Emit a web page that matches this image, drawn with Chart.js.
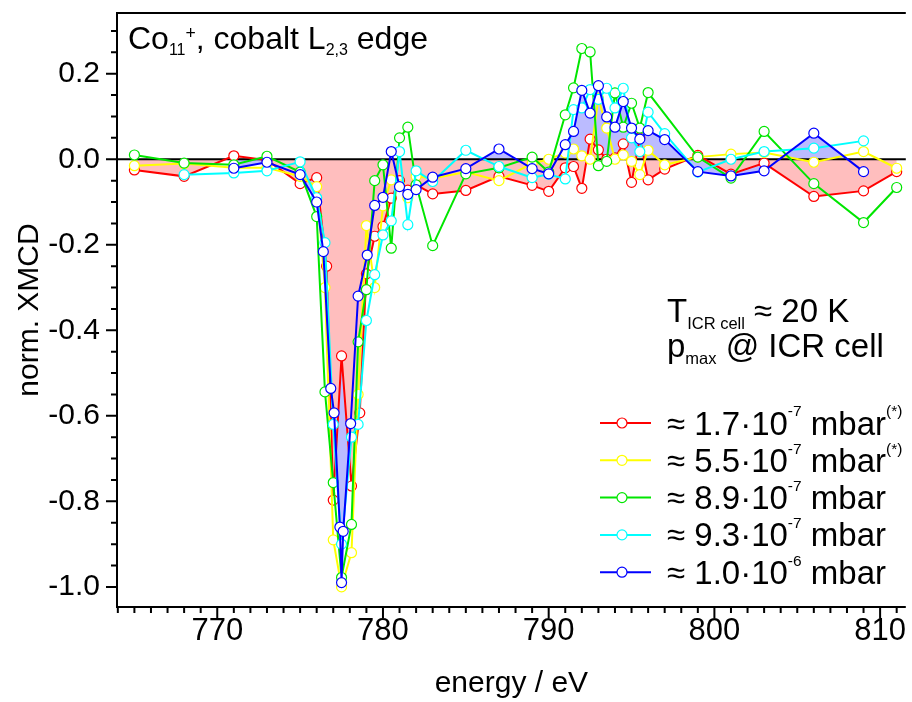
<!DOCTYPE html>
<html>
<head>
<meta charset="utf-8">
<script src="https://cdn.jsdelivr.net/npm/chart.js@4.4.1/dist/chart.umd.min.js"></script>
<style>
  html, body { margin: 0; padding: 0; background: #fff; }
</style>
</head>
<body>
<canvas id="myChart" width="912" height="702"></canvas>
<script>
// energies (eV) and normalised XMCD values
const redE = [765, 768, 771, 773, 775, 776, 776.6, 777, 777.5, 778.1, 778.6, 779, 779.5, 780, 780.5, 781, 781.5, 782, 783, 785, 787, 789, 790, 791, 791.5, 792, 792.5, 793, 793.5, 794, 794.5, 795, 795.5, 796, 797, 799, 801, 803, 806, 809, 811];
const redV = [-0.025, -0.04, 0.008, -0.002, -0.057, -0.043, -0.25, -0.797, -0.46, -0.764, -0.593, -0.268, -0.18, -0.157, -0.091, -0.05, -0.072, -0.06, -0.081, -0.073, -0.04, -0.061, -0.075, -0.02, -0.017, -0.068, 0.047, 0.022, 0.0, 0.003, 0.036, -0.054, 0.05, -0.048, -0.023, 0.009, -0.035, -0.009, -0.087, -0.074, -0.029];

const yellowE = [765, 768, 771, 773, 775, 776, 776.5, 777, 777.5, 778.1, 778.5, 779, 779.5, 780, 780.5, 781, 781.5, 782, 783, 785, 787, 789, 790, 791, 791.5, 792, 792.5, 793, 793.5, 794, 794.5, 795, 795.5, 796, 797, 799, 801, 803, 806, 809, 811];
const yellowV = [-0.015, -0.01, -0.02, -0.02, -0.04, -0.064, -0.3, -0.89, -1.0, -0.92, -0.55, -0.155, -0.3, -0.109, -0.048, -0.06, -0.09, -0.04, -0.045, -0.03, -0.05, -0.01, 0.0, 0.015, 0.024, 0.008, 0.0, 0.143, 0.073, 0.0, 0.01, -0.005, -0.036, 0.021, -0.013, 0.005, 0.012, 0.016, -0.007, 0.018, -0.021];

const greenE = [765, 768, 771, 773, 775, 776, 776.5, 777, 777.5, 778.1, 778.5, 779, 779.5, 780, 780.5, 781, 781.5, 782, 783, 785, 787, 789, 790, 791, 791.5, 792, 792.5, 793, 793.5, 794, 794.5, 795, 795.5, 796, 799, 801, 803, 806, 809, 811];
const greenV = [0.01, -0.009, -0.013, 0.007, -0.03, -0.134, -0.544, -0.756, -0.978, -0.854, -0.427, -0.305, -0.05, -0.013, -0.208, 0.05, 0.075, -0.06, -0.202, -0.034, -0.02, 0.005, -0.03, 0.104, 0.167, 0.259, 0.251, -0.015, -0.005, 0.155, 0.075, 0.131, 0.073, 0.156, 0.005, -0.044, 0.065, -0.057, -0.148, -0.066];

const cyanE = [768, 771, 773, 775, 776, 776.5, 777, 777.5, 778.1, 778.5, 779, 779.5, 780, 780.5, 781, 781.5, 782, 783, 785, 787, 789, 790, 791, 791.5, 792, 792.5, 793, 793.5, 794, 794.5, 795, 795.5, 796, 797, 799, 801, 803, 806, 809];
const cyanV = [-0.036, -0.032, -0.027, -0.006, -0.09, -0.195, -0.62, -0.9, -0.65, -0.62, -0.377, -0.27, -0.177, -0.144, 0.018, -0.153, -0.027, -0.052, 0.021, -0.017, -0.043, -0.035, -0.046, 0.116, 0.12, 0.163, 0.14, 0.166, 0.12, 0.166, 0.05, 0.018, 0.11, 0.06, -0.03, 0.0, 0.018, 0.026, 0.043];

const blueE = [771, 773, 775, 776, 776.4, 776.85, 777.05, 777.4, 777.5, 777.6, 778.05, 778.5, 779.05, 779.5, 780, 780.5, 781, 781.5, 782, 783, 785, 787, 789, 790, 791, 791.5, 792, 792.5, 793, 793.5, 794, 794.5, 795, 795.5, 796, 797, 799, 801, 803, 806, 809];
const blueV = [-0.021, -0.007, -0.036, -0.1, -0.216, -0.536, -0.593, -0.86, -0.99, -0.87, -0.618, -0.32, -0.224, -0.108, -0.089, 0.018, -0.064, -0.082, -0.071, -0.042, -0.022, 0.024, -0.022, -0.034, 0.034, 0.065, 0.161, 0.108, 0.172, 0.099, 0.075, 0.135, 0.073, 0.047, 0.067, 0.046, -0.029, -0.039, -0.027, 0.061, -0.029];

const xTicks = [770, 780, 790, 800, 810];
const yTicks = [-1.0, -0.8, -0.6, -0.4, -0.2, 0.0, 0.2];

// legend texts, pieces are [text, size factor, baseline shift factor]
const legendTexts = [
    [['≈ 1.7·10', 1, 0], ['-7', 0.47, -0.55], [' mbar', 1, 0], ['(*)', 0.47, -0.55]],
    [['≈ 5.5·10', 1, 0], ['-7', 0.47, -0.55], [' mbar', 1, 0], ['(*)', 0.47, -0.55]],
    [['≈ 8.9·10', 1, 0], ['-7', 0.47, -0.55], [' mbar', 1, 0]],
    [['≈ 9.3·10', 1, 0], ['-7', 0.47, -0.55], [' mbar', 1, 0]],
    [['≈ 1.0·10', 1, 0], ['-6', 0.47, -0.55], [' mbar', 1, 0]]
];
const titleText = [['Co', 1, 0], ['11', 0.5, 0.2], ['+', 0.55, -0.32], [', cobalt L', 1, 0], ['2,3', 0.5, 0.2], [' edge', 1, 0]];
const tempText = [['T', 1, 0], ['ICR cell', 0.5, 0.2], [' ≈ 20 K', 1, 0]];
const pressText = [['p', 1, 0], ['max', 0.5, 0.22], [' @ ICR cell', 1, 0]];

const colors = ['#ff0000', '#ffff00', '#00e600', '#00ffff', '#0000ff'];
const FONT = "'Liberation Sans', Arial, sans-serif";
const NARROW = "'Liberation Sans Narrow', 'Arial Narrow', 'Liberation Sans', sans-serif";

function toPoints(e, v) {
    return e.map((x, i) => ({ x: x, y: v[i] }));
}

function drawRich(ctx, parts, x, y, size) {
    let cx = x;
    parts.forEach(([t, f, dy]) => {
        ctx.font = (size * f) + 'px ' + FONT;
        ctx.fillText(t, cx, y + dy * size);
        cx += ctx.measureText(t).width;
    });
}

const series = [
    [redE, redV], [yellowE, yellowV], [greenE, greenV], [cyanE, cyanV], [blueE, blueV]
];

const lineSets = series.map(([e, v], i) => ({
    data: toPoints(e, v),
    borderColor: colors[i],
    borderWidth: 2,
    pointRadius: 5,
    pointBorderWidth: 1.2,
    pointBorderColor: colors[i],
    pointBackgroundColor: '#ffffff',
    fill: false,
    tension: 0,
    order: 4 - i
}));

// shaded areas of the lowest and highest pressure
const fillSets = [
    { data: toPoints(blueE, blueV), fill: 'origin', backgroundColor: 'rgb(187,187,255)', borderColor: 'transparent', borderWidth: 0, pointRadius: 0, order: 11 },
    { data: toPoints(redE, redV), fill: 'origin', backgroundColor: 'rgb(255,190,190)', borderColor: 'transparent', borderWidth: 0, pointRadius: 0, order: 10 }
];

const decor = {
    id: 'decor',
    beforeDatasetsDraw(chart) {
        const { ctx, chartArea: a, scales: { y } } = chart;
        const y0 = y.getPixelForValue(0);
        ctx.save();
        ctx.strokeStyle = '#000';
        ctx.lineWidth = 2;
        ctx.beginPath();
        ctx.moveTo(a.left, y0);
        ctx.lineTo(a.right, y0);
        ctx.stroke();
        ctx.restore();
    },
    afterDraw(chart) {
        const { ctx, chartArea: a, scales: { x, y } } = chart;
        ctx.save();
        ctx.strokeStyle = '#000';
        ctx.lineWidth = 2;
        ctx.beginPath();
        ctx.moveTo(a.left, a.top);
        ctx.lineTo(a.right, a.top);
        ctx.moveTo(a.left, a.top - 1);
        ctx.lineTo(a.left, a.bottom + 1);
        ctx.moveTo(a.left - 1, a.bottom);
        ctx.lineTo(a.right, a.bottom);
        // minor and major ticks
        for (let e = Math.ceil(x.min); e <= x.max; e++) {
            const px = x.getPixelForValue(e);
            ctx.moveTo(px, a.bottom);
            ctx.lineTo(px, a.bottom + (e % 10 === 0 ? 11 : 6));
        }
        for (let k = -20; k <= 6; k++) {
            const py = y.getPixelForValue(k * 0.05);
            ctx.moveTo(a.left, py);
            ctx.lineTo(a.left - (k % 4 === 0 ? 11 : 6), py);
        }
        ctx.stroke();

        ctx.fillStyle = '#000';
        ctx.textBaseline = 'alphabetic';
        ctx.textAlign = 'left';
        drawRich(ctx, titleText, 128, 49, 32);
        drawRich(ctx, tempText, 667, 322, 33);
        drawRich(ctx, pressText, 667, 357, 33);

        legendTexts.forEach((parts, i) => {
            const ry = 423 + i * 37.3;
            ctx.strokeStyle = colors[i];
            ctx.lineWidth = 2;
            ctx.beginPath();
            ctx.moveTo(600, ry);
            ctx.lineTo(651, ry);
            ctx.stroke();
            ctx.beginPath();
            ctx.arc(622, ry, 5, 0, Math.PI * 2);
            ctx.fillStyle = '#fff';
            ctx.fill();
            ctx.lineWidth = 1.2;
            ctx.stroke();
            ctx.fillStyle = '#000';
            drawRich(ctx, parts, 667, ry + 11.5, 33);
        });
        ctx.restore();
    }
};

const ctx = document.getElementById('myChart');
new Chart(ctx, {
    type: 'line',
    data: { datasets: lineSets.concat(fillSets) },
    options: {
        responsive: false,
        animation: false,
        events: [],
        layout: { padding: { top: 13, left: 0, right: 0, bottom: 0 } },
        plugins: {
            legend: { display: false },
            tooltip: { enabled: false },
            filler: { drawTime: 'beforeDatasetsDraw' }
        },
        scales: {
            x: {
                type: 'linear',
                min: 763.95,
                max: 811.55,
                afterBuildTicks: (s) => { s.ticks = xTicks.map(v => ({ value: v })); },
                afterFit: (s) => { s.height = 95; s.paddingLeft = 0; s.paddingRight = 0; },
                grid: { display: false, drawTicks: false },
                border: { display: false },
                ticks: { color: '#000', font: { family: NARROW, size: 31 }, padding: 6, maxRotation: 0, autoSkip: false, callback: v => String(v) },
                title: { display: true, text: 'energy / eV', color: '#000', font: { family: FONT, size: 30 }, padding: { top: 0, bottom: 0 } }
            },
            y: {
                type: 'linear',
                min: -1.047,
                max: 0.342,
                afterBuildTicks: (s) => { s.ticks = yTicks.map(v => ({ value: v })); },
                afterFit: (s) => { s.width = 117; s.paddingTop = 0; s.paddingBottom = 0; },
                grid: { display: false, drawTicks: false },
                border: { display: false },
                ticks: { color: '#000', font: { family: FONT, size: 30 }, padding: 17, callback: v => v.toFixed(1) },
                title: { display: true, text: 'norm. XMCD', color: '#000', font: { family: FONT, size: 30 }, padding: { top: 12, bottom: 0 } }
            }
        }
    },
    plugins: [decor]
});
</script>
</body>
</html>
